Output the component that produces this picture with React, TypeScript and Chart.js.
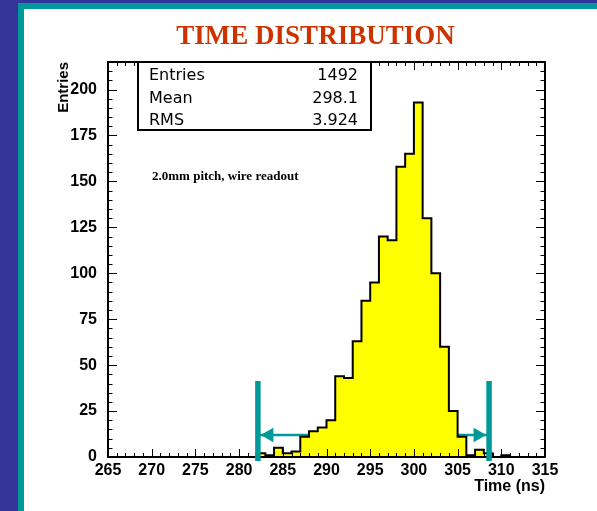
import React, { useEffect, useRef } from 'react';
import { Chart, registerables } from 'chart.js';

Chart.register(...registerables);

// ---- data ----
const binEdges = [
  282, 283, 284, 285, 286, 287, 288, 289, 290, 291, 292, 293, 294, 295, 296,
  297, 298, 299, 300, 301, 302, 303, 304, 305, 306, 307, 308, 309, 310, 311,
];
const binCounts = [
  2, 1, 5, 2, 3, 11, 14, 16, 20, 44, 43, 63, 85, 95, 120, 118, 158, 165, 193,
  130, 100, 60, 25, 11, 1, 4, 2, 0, 1,
];
const xRange = [265, 315];
const yRange = [0, 215];
const xMajorStep = 5;
const xMinorStep = 1;
const yMajorStep = 25;
const yMinorStep = 5;
const statLabels = ['Entries', 'Mean', 'RMS'];
const statValues = ['1492', '298.1', '3.924'];
const windowEdges = [282.15, 308.6];
const windowArrowLevel = 12;
const windowMarkerTop = 41.3;
const windowMarkerBottom = -2.2;
const titleText = 'TIME DISTRIBUTION';
const noteText = '2.0mm pitch, wire readout';
const xTitle = 'Time (ns)';
const yTitle = 'Entries';

const SANS = '"Liberation Sans", Arial, sans-serif';
const SERIF = '"Liberation Serif", "Times New Roman", serif';
const TEAL = '#009999';
const BLUE = '#333399';

const decorPlugin = {
  id: 'decor',
  beforeDraw(chart: any) {
    const { ctx, width, height } = chart;
    ctx.save();
    ctx.fillStyle = '#ffffff';
    ctx.fillRect(0, 0, width, height);
    ctx.fillStyle = BLUE;
    ctx.fillRect(0, 0, 18, height);
    ctx.fillRect(0, 0, width, 3);
    ctx.fillStyle = TEAL;
    ctx.fillRect(18, 3, 6, height - 3);
    ctx.fillRect(18, 3, width - 18, 6);
    ctx.restore();
  },
  beforeDatasetsDraw(chart: any) {
    const { ctx, scales } = chart;
    const xs = scales.x;
    const ys = scales.y;
    const xl = xs.getPixelForValue(windowEdges[0]);
    const xr = xs.getPixelForValue(windowEdges[1]);
    const ya = ys.getPixelForValue(windowArrowLevel);
    ctx.save();
    ctx.strokeStyle = TEAL;
    ctx.fillStyle = TEAL;
    ctx.lineWidth = 2.5;
    ctx.beginPath();
    ctx.moveTo(xl, ya);
    ctx.lineTo(xr, ya);
    ctx.stroke();
    // arrow heads
    ctx.beginPath();
    ctx.moveTo(xl + 2.7, ya);
    ctx.lineTo(xl + 15.5, ya - 7.2);
    ctx.lineTo(xl + 15.5, ya + 7.2);
    ctx.closePath();
    ctx.fill();
    ctx.beginPath();
    ctx.moveTo(xr - 2.7, ya);
    ctx.lineTo(xr - 15.5, ya - 7.2);
    ctx.lineTo(xr - 15.5, ya + 7.2);
    ctx.closePath();
    ctx.fill();
    ctx.restore();
  },
  afterDatasetsDraw(chart: any) {
    const { ctx, scales, chartArea } = chart;
    const xs = scales.x;
    const ys = scales.y;
    const { left, right, top, bottom } = chartArea;
    ctx.save();
    // ticks (inside)
    ctx.strokeStyle = '#000';
    ctx.lineWidth = 1;
    ctx.beginPath();
    for (let v = yRange[0]; v <= yRange[1] + 1e-9; v += yMinorStep) {
      const p = Math.round(ys.getPixelForValue(v)) + 0.5;
      const len = v % yMajorStep === 0 ? 9 : 4.5;
      ctx.moveTo(left, p);
      ctx.lineTo(left + len, p);
      ctx.moveTo(right, p);
      ctx.lineTo(right - len, p);
    }
    for (let t = xRange[0]; t <= xRange[1] + 1e-9; t += xMinorStep) {
      const p = Math.round(xs.getPixelForValue(t)) + 0.5;
      const len = t % xMajorStep === 0 ? 8 : 4;
      ctx.moveTo(p, bottom);
      ctx.lineTo(p, bottom - len);
      ctx.moveTo(p, top);
      ctx.lineTo(p, top + len);
    }
    ctx.stroke();
    // frame
    ctx.lineWidth = 2;
    ctx.strokeRect(left, top, right - left, bottom - top);

    // window markers
    ctx.strokeStyle = TEAL;
    ctx.lineWidth = 5.5;
    ctx.beginPath();
    for (const e of windowEdges) {
      const px = xs.getPixelForValue(e);
      ctx.moveTo(px, ys.getPixelForValue(windowMarkerTop));
      ctx.lineTo(px, ys.getPixelForValue(windowMarkerBottom));
    }
    ctx.stroke();

    // stats box
    ctx.fillStyle = '#fff';
    ctx.fillRect(138, 62, 233, 68);
    ctx.strokeStyle = '#000';
    ctx.lineWidth = 2;
    ctx.strokeRect(138, 62, 233, 68);
    ctx.fillStyle = '#000';
    ctx.font = '16px "DejaVu Sans", sans-serif';
    ctx.textBaseline = 'alphabetic';
    const rowBase = [80, 103, 125];
    statLabels.forEach((l, i) => {
      ctx.textAlign = 'left';
      ctx.fillText(l, 149, rowBase[i]);
      ctx.textAlign = 'right';
      ctx.fillText(statValues[i], 358, rowBase[i]);
    });

    // note
    ctx.textAlign = 'left';
    ctx.font = `bold 13px ${SERIF}`;
    ctx.fillText(noteText, 152, 180);

    // title
    ctx.textAlign = 'center';
    ctx.fillStyle = '#cc3300';
    ctx.font = `bold 27px ${SERIF}`;
    ctx.fillText(titleText, 315.5, 44);
    ctx.restore();
  },
};

export default function App() {
  const ref = useRef<HTMLCanvasElement | null>(null);
  useEffect(() => {
    if (!ref.current) return;
    const pts: { x: number; y: number }[] = [];
    pts.push({ x: binEdges[0], y: 0 });
    binCounts.forEach((c, i) => {
      pts.push({ x: binEdges[i], y: c });
      pts.push({ x: binEdges[i + 1], y: c });
    });
    pts.push({ x: binEdges[binEdges.length - 1], y: 0 });

    const tickFont = { family: SANS, size: 16, weight: 'bold' as const };
    const chart = new Chart(ref.current, {
      type: 'line',
      data: {
        datasets: [
          {
            data: pts,
            borderColor: '#000',
            borderWidth: 2,
            backgroundColor: '#ffff00',
            fill: 'origin',
            pointRadius: 0,
            tension: 0,
            stepped: false,
          },
        ],
      },
      options: {
        animation: false,
        responsive: false,
        maintainAspectRatio: false,
        layout: { padding: { left: 24, right: 52, top: 62, bottom: 0 } },
        plugins: {
          legend: { display: false },
          tooltip: { enabled: false },
          title: { display: false },
        },
        scales: {
          x: {
            type: 'linear',
            min: xRange[0],
            max: xRange[1],
            grid: { display: false, drawTicks: false },
            border: { display: false },
            ticks: {
              stepSize: xMajorStep,
              padding: 4,
              font: tickFont,
              color: '#000',
              maxRotation: 0,
              autoSkip: false,
              includeBounds: false,
            },
            title: {
              display: true,
              text: xTitle,
              align: 'end',
              color: '#000',
              font: { family: SANS, size: 16, weight: 'bold' },
              padding: { top: 0, bottom: 15 },
            },
            afterFit: (s: any) => {
              s.height = 54;
            },
          },
          y: {
            type: 'linear',
            min: yRange[0],
            max: yRange[1],
            grid: { display: false, drawTicks: false },
            border: { display: false },
            ticks: {
              stepSize: yMajorStep,
              padding: 11,
              font: tickFont,
              color: '#000',
              includeBounds: false,
            },
            title: {
              display: true,
              text: yTitle,
              align: 'end',
              color: '#000',
              font: { family: SANS, size: 15, weight: 'bold' },
              padding: { top: 31, bottom: 0 },
            },
            afterFit: (s: any) => {
              s.width = 84;
            },
          },
        },
      },
      plugins: [decorPlugin],
    });
    return () => chart.destroy();
  }, []);

  return (
    <div style={{ position: 'fixed', left: 0, top: 0, width: 597, height: 511 }}>
      <canvas ref={ref} width={597} height={511} style={{ display: 'block' }} />
    </div>
  );
}
